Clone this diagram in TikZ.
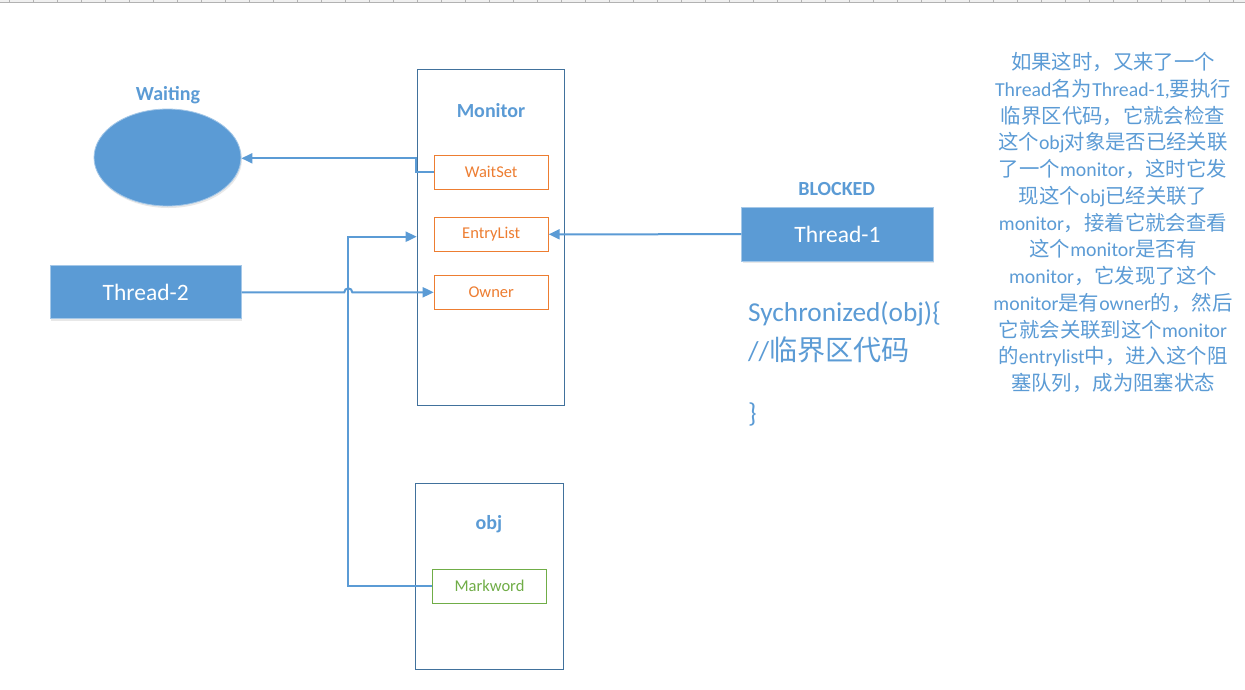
\documentclass[tikz,border=0pt]{standalone}
\usepackage{fontspec}
\setmainfont{Carlito}
\newfontfamily\cjk[Scale=1.03]{Noto Sans CJK SC}
\usetikzlibrary{arrows.meta,shadows,shapes.geometric}
\definecolor{mblue}{HTML}{5B9BD5}
\definecolor{dblue}{HTML}{41719C}
\definecolor{morange}{HTML}{ED7D31}
\definecolor{mgreen}{HTML}{70AD47}
\newcommand\zh[1]{{\cjk #1}}
\begin{document}
\begin{tikzpicture}[x=1pt,y=-1pt,
  title/.style={font=\bfseries\fontsize{20}{24}\selectfont, text=mblue, inner sep=0},
  container/.style={draw=dblue, line width=1pt, fill=white, inner sep=0},
  field/.style={draw=morange, line width=1pt, text=morange, font=\fontsize{16.5}{20}\selectfont, minimum width=114pt, minimum height=34pt, inner sep=0},
  greenfield/.style={field, draw=mgreen, text=mgreen},
  thread/.style={fill=mblue, draw=mblue!55, line width=0.8pt, text=white, font=\fontsize{23.5}{28}\selectfont, minimum width=191pt, minimum height=53pt, inner sep=0, drop shadow={opacity=0.18, shadow xshift=1pt, shadow yshift=-2pt}},
  conn/.style={draw=mblue, line width=2pt},
  arr/.style={conn, -{Triangle[length=11pt,width=10pt]}},
  codetext/.style={text=mblue, font=\fontsize{27.3}{32}\selectfont, inner sep=0, anchor=west},
  note/.style={text=mblue, font=\fontsize{19.8}{26.75}\selectfont, align=center, inner sep=0}]
\useasboundingbox (0,0) rectangle (1245,689);
\fill[white] (0,0) rectangle (1245,689);
% top ruler strip
\fill[gray!12] (0,0) rectangle (1245,2.6);
\draw[gray!60, line width=0.8pt] (0,2.6) -- (1245,2.6);
\foreach \i in {0,...,51} \draw[gray!60, line width=0.6pt] (9.5+24*\i,0) -- (9.5+24*\i,2.6);

% Waiting
\node[title] (waitlbl) at (168,95) {Waiting};
\node[ellipse, fill=mblue, draw=mblue!55, line width=0.8pt, minimum width=147pt, minimum height=97pt, inner sep=0, drop shadow={opacity=0.18, shadow xshift=1pt, shadow yshift=-2pt}] (waiting) at (167.5,157.5) {};

% Monitor
\node[container, minimum width=147pt, minimum height=336pt] (monitor) at (490.7,237.3) {};
\node[title] (montitle) at (491,110.5) {Monitor};
\node[field] (waitset) at (491.2,172.3) {WaitSet};
\node[field] (entry) at (491.2,234.3) {EntryList};
\node[field] (owner) at (491.2,292.3) {Owner};

% obj
\node[container, minimum width=148.4pt, minimum height=186pt] (obj) at (489.5,576.3) {};
\node[title] (objtitle) at (489,524) {obj};
\node[greenfield] (mark) at (489.5,586.3) {Markword};

% threads
\node[thread] (t2) at (145.7,292.3) {Thread-2};
\node[thread, minimum width=191.6pt, minimum height=53.7pt] (t1) at (837.5,234.2) {Thread-1};
\node[title] (blocked) at (836.7,188.8) {BLOCKED};

% code
\node[codetext] (code1) at (748,314) {Sychronized(obj)\{};
\node[codetext] (code2) at (748,350) {//\zh{临界区代码}};
\node[codetext] (code3) at (748,414) {\}};

% note
\node[note] (notetext) at (1113,222.5) {%
\zh{如果这时，又来了一个}\\
Thread\zh{名为}Thread-1,\zh{要执行}\\
\zh{临界区代码，它就会检查}\\
\zh{这个}obj\zh{对象是否已经关联}\\
\zh{了一个}monitor\zh{，这时它发}\\
\zh{现这个}obj\zh{已经关联了}\\
monitor\zh{，接着它就会查看}\\
\zh{这个}monitor\zh{是否有}\\
monitor\zh{，它发现了这个}\\
monitor\zh{是有}owner\zh{的，然后}\\
\zh{它就会关联到这个}monitor\\
\zh{的}entrylist\zh{中，进入这个阻}\\
\zh{塞队列，成为阻塞状态}};

% connectors
\coordinate (wturn) at (415.5,158.3);
\coordinate (mturn) at (348.3,236.7);
\draw[arr] (mark.west) -| (mturn) -- (monitor.west |- mturn);
\draw[arr] (waitset.west) -| (wturn) -- (waiting.east |- wturn);
\draw[arr] (t1.west) -- (entry.east);
\draw[arr] (t2.east) -- (344.3,292.3) arc[start angle=180,end angle=360,radius=4] -- (owner.west);
\end{tikzpicture}
\end{document}
